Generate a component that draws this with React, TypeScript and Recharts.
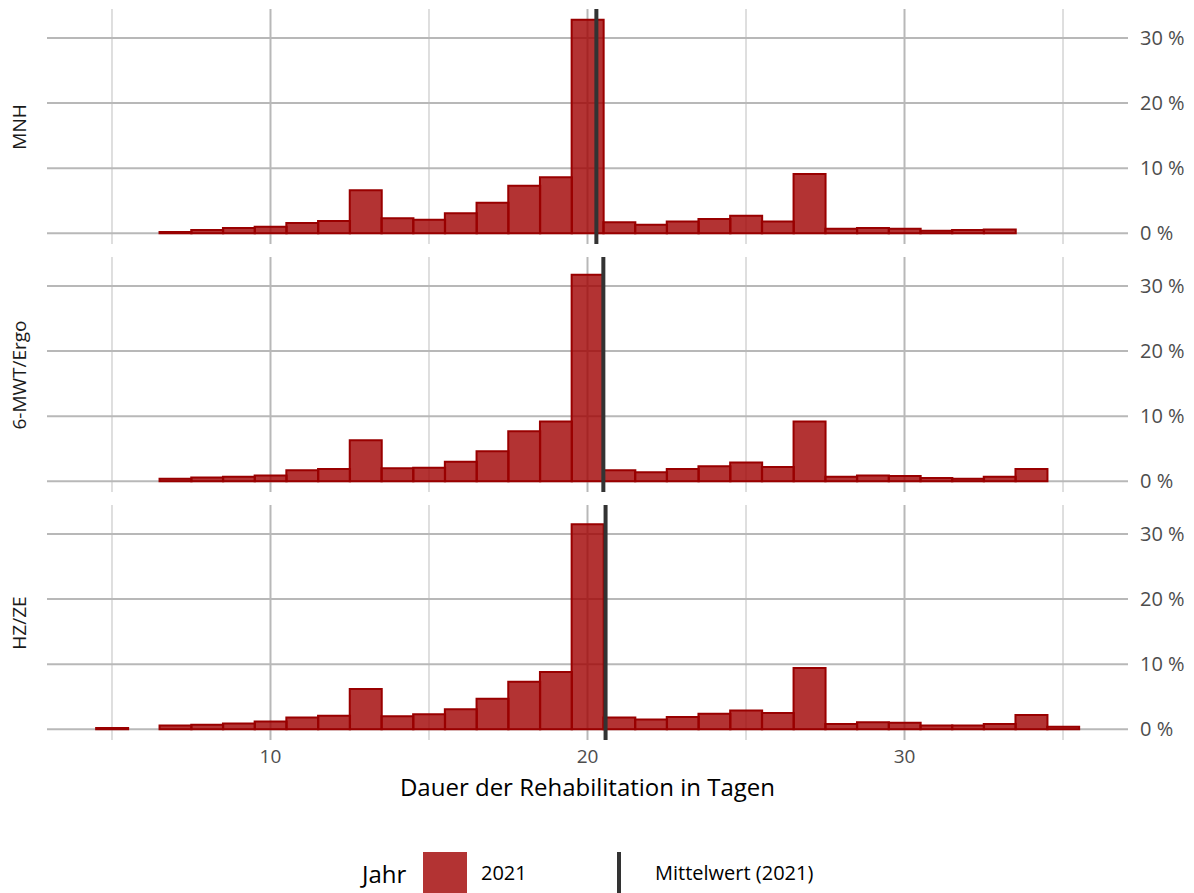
import React from "react";
import {
  ComposedChart,
  Bar,
  XAxis,
  YAxis,
  CartesianGrid,
  ReferenceLine,
} from "recharts";

// days (bin centres) and share of patients in %, one array per panel
const days = [5, 6, 7, 8, 9, 10, 11, 12, 13, 14, 15, 16, 17, 18, 19, 20, 21, 22, 23, 24, 25, 26, 27, 28, 29, 30, 31, 32, 33, 34, 35];
const mnh = [null, null, 0.2, 0.5, 0.8, 1.0, 1.6, 1.9, 6.6, 2.3, 2.1, 3.1, 4.7, 7.3, 8.6, 32.8, 1.7, 1.3, 1.8, 2.2, 2.7, 1.8, 9.1, 0.7, 0.8, 0.7, 0.4, 0.5, 0.6, null, null];
const mwtErgo = [null, null, 0.4, 0.6, 0.7, 0.9, 1.7, 1.9, 6.3, 2.0, 2.1, 3.0, 4.6, 7.7, 9.2, 31.7, 1.7, 1.4, 1.9, 2.3, 2.9, 2.2, 9.2, 0.7, 0.9, 0.8, 0.5, 0.4, 0.7, 1.9, null];
const hzZe = [0.2, null, 0.6, 0.7, 0.9, 1.2, 1.8, 2.1, 6.2, 2.0, 2.3, 3.1, 4.7, 7.3, 8.8, 31.5, 1.8, 1.5, 1.9, 2.4, 2.9, 2.5, 9.4, 0.8, 1.1, 1.0, 0.6, 0.6, 0.8, 2.2, 0.4];

const panelNames = ["MNH", "6-MWT/Ergo", "HZ/ZE"];
const means = [20.28, 20.5, 20.57];

const xTicks = [10, 20, 30];
const xMinor = [5, 15, 25, 35];
const yTicks = [0, 10, 20, 30];

const FONT = "'Open Sans', 'Noto Sans', sans-serif";
const PANEL_H = 235;
const panelTops = [9, 257, 505];

function Panel({ name, values, mean, top, showX }: any) {
  const data = days.map((d, i) => ({ day: d, pct: values[i] }));
  return (
    <div style={{ position: "absolute", left: 0, top }}>
      <div
        style={{
          position: "absolute",
          left: 19,
          top: PANEL_H / 2,
          transform: "translate(-50%, -50%) rotate(-90deg)",
          fontSize: 19,
          color: "#1a1a1a",
          whiteSpace: "nowrap",
        }}
      >
        {name}
      </div>
      <ComposedChart
        width={1194}
        height={showX ? PANEL_H + 32 : PANEL_H + 12}
        data={data}
        margin={{ top: 0, right: 0, bottom: showX ? 0 : 12, left: 47 }}
        barCategoryGap={0}
        barGap={0}
      >
        <CartesianGrid
          horizontal={false}
          verticalValues={xMinor}
          stroke="#d4d4d4"
          strokeWidth={1.5}
        />
        <CartesianGrid
          horizontalValues={yTicks}
          verticalValues={xTicks}
          stroke="#b8b8b8"
          strokeWidth={2}
        />
        <XAxis
          dataKey="day"
          type="number"
          domain={[2.95, 37.05]}
          ticks={xTicks}
          hide={!showX}
          height={32}
          axisLine={false}
          tickLine={false}
          tickSize={0}
          tickMargin={10}
          interval={0}
          tick={{ fill: "#4d4d4d", fontSize: 19, fontFamily: FONT }}
        />
        <YAxis
          orientation="right"
          width={66}
          domain={[-1.64, 34.44]}
          ticks={yTicks}
          interval={0}
          axisLine={false}
          tickLine={false}
          tickSize={0}
          tickMargin={12}
          tickFormatter={(v: number) => `${v} %`}
          tick={{ fill: "#4d4d4d", fontSize: 20, fontFamily: FONT, textAnchor: "start" }}
        />
        <Bar
          dataKey="pct"
          fill="#a00000"
          fillOpacity={0.8}
          stroke="#990000"
          strokeWidth={2}
          isAnimationActive={false}
        />
        <ReferenceLine x={mean} stroke="#333333" strokeWidth={4} />
      </ComposedChart>
    </div>
  );
}

export default function App() {
  const series = [mnh, mwtErgo, hzZe];
  return (
    <div
      style={{
        position: "absolute",
        left: 0,
        top: 0,
        width: 1194,
        height: 893,
        overflow: "hidden",
        background: "#fff",
        fontFamily: FONT,
      }}
    >
      {panelNames.map((n, i) => (
        <Panel
          key={n}
          name={n}
          values={series[i]}
          mean={means[i]}
          top={panelTops[i]}
          showX={i === 2}
        />
      ))}
      <div
        style={{
          position: "absolute",
          left: 0,
          width: 1175,
          top: 770,
          textAlign: "center",
          fontSize: 24,
          color: "#000",
        }}
      >
        Dauer der Rehabilitation in Tagen
      </div>
      <div style={{ position: "absolute", left: 362, top: 857, fontSize: 24, color: "#000" }}>Jahr</div>
      <div
        style={{
          position: "absolute",
          left: 423,
          top: 852,
          width: 44,
          height: 44,
          background: "#a00000",
          opacity: 0.8,
        }}
      />
      <div style={{ position: "absolute", left: 481, top: 859, fontSize: 20, color: "#000" }}>2021</div>
      <div
        style={{
          position: "absolute",
          left: 617,
          top: 852,
          width: 4,
          height: 44,
          background: "#333333",
        }}
      />
      <div style={{ position: "absolute", left: 655, top: 859, fontSize: 20, color: "#000" }}>
        Mittelwert (2021)
      </div>
    </div>
  );
}
